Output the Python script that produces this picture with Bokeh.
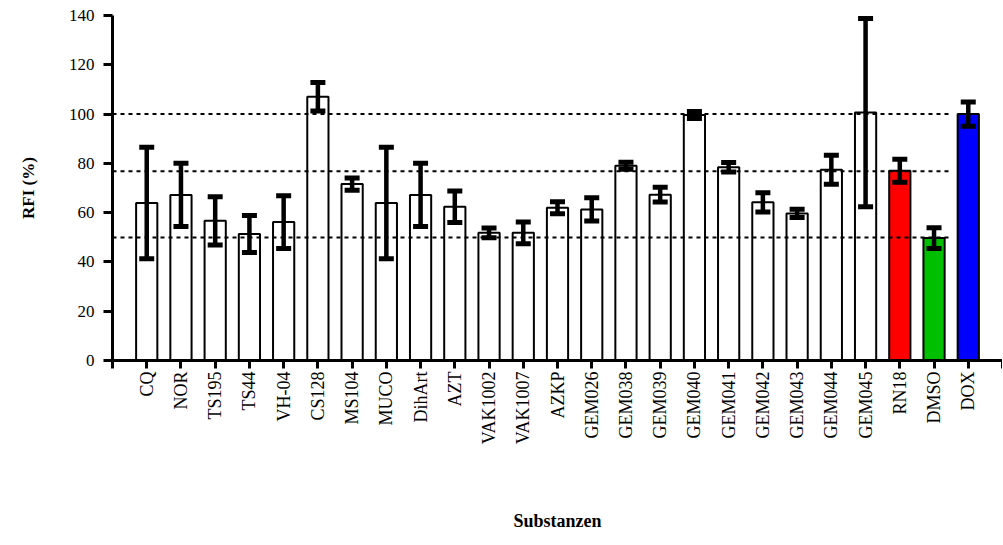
from math import pi
from bokeh.plotting import figure
from bokeh.models import FixedTicker, ColumnDataSource, Range1d
from bokeh.embed import file_html
from bokeh.resources import INLINE

# ---- data ----
substances = ["CQ", "NOR", "TS195", "TS44", "VH-04", "CS128", "MS104", "MUCO",
              "DihArt", "AZT", "VAK1002", "VAK1007", "AZKP", "GEM026", "GEM038",
              "GEM039", "GEM040", "GEM041", "GEM042", "GEM043", "GEM044",
              "GEM045", "RN18", "DMSO", "DOX"]
rfi_mean = [63.9, 67.2, 56.7, 51.3, 56.2, 107.0, 71.6, 63.9, 67.2, 62.4, 51.8,
            51.8, 62.0, 61.3, 79.0, 67.3, 99.6, 78.4, 64.2, 59.7, 77.4, 100.6,
            77.0, 49.7, 100.0]
rfi_err = [22.6, 12.8, 9.8, 7.5, 10.7, 5.8, 2.5, 22.6, 12.8, 6.4, 2.0, 4.4,
           2.4, 4.7, 1.4, 3.0, 1.4, 1.9, 3.9, 1.7, 5.9, 38.2, 4.7, 4.2, 4.9]
bar_colors = ["white"] * 22 + ["#FF0000", "#00BE00", "#0000FF"]
ref_levels = [100.0, 76.8, 49.9]
y_ticks = [0, 20, 40, 60, 80, 100, 120, 140]

n = len(substances)
xpos = list(range(1, n + 1))
upper = [m + e for m, e in zip(rfi_mean, rfi_err)]
lower = [m - e for m, e in zip(rfi_mean, rfi_err)]

src = ColumnDataSource(dict(x=xpos, name=substances, mean=rfi_mean,
                            up=upper, lo=lower, color=bar_colors))

FONT = "Liberation Serif"

p = figure(width=1002, height=544, output_backend="svg", toolbar_location=None,
           x_range=Range1d(0, n + 1), y_range=Range1d(0, 140),
           min_border_left=112, min_border_right=0, min_border_top=15,
           min_border_bottom=184)
p.outline_line_color = None
p.xgrid.visible = False
p.ygrid.visible = False
p.background_fill_color = "white"
p.border_fill_color = "white"

# bars
p.vbar(x="x", top="mean", bottom=0, width=0.62, source=src,
       fill_color="color", line_color="black", line_width=2)

# dashed reference lines
p.segment(x0=[0] * len(ref_levels), x1=[n - 0.5] * len(ref_levels),
          y0=ref_levels, y1=ref_levels, line_color="black", line_width=2,
          line_dash="4 4")

# error bars
p.segment(x0="x", x1="x", y0="lo", y1="up", source=src,
          line_color="black", line_width=4.5)
for key in ("up", "lo"):
    p.rect(x="x", y=key, width=15, height=5, width_units="screen",
           height_units="screen", source=src, fill_color="black",
           line_color=None)

# y axis
ya = p.yaxis[0]
ya.ticker = FixedTicker(ticks=y_ticks)
ya.minor_tick_line_color = None
ya.major_tick_out = 9
ya.major_tick_in = 0
ya.major_tick_line_width = 3
ya.axis_line_width = 3
ya.major_label_text_font = FONT
ya.major_label_text_font_size = "17px"
ya.major_label_text_color = "black"
ya.major_label_standoff = 9
ya.axis_label = "RFI (%)"
ya.axis_label_text_font = FONT
ya.axis_label_text_font_style = "bold"
ya.axis_label_text_font_size = "17px"
ya.axis_label_text_color = "black"
ya.axis_label_standoff = 28

# x axis
xa = p.xaxis[0]
xa.ticker = FixedTicker(ticks=list(range(0, n + 2)))
xa.major_label_overrides = {i + 1: s for i, s in enumerate(substances)}
xa.major_label_overrides.update({0: "", n + 1: ""})
xa.major_label_orientation = pi / 2
xa.minor_tick_line_color = None
xa.major_tick_out = 8
xa.major_tick_in = 0
xa.major_tick_line_width = 3
xa.axis_line_width = 3
xa.major_label_text_font = FONT
xa.major_label_text_font_size = "18px"
xa.major_label_text_color = "black"
xa.major_label_standoff = 3
xa.axis_label = "Substanzen"
xa.axis_label_text_font = FONT
xa.axis_label_text_font_style = "bold"
xa.axis_label_text_font_size = "18px"
xa.axis_label_text_color = "black"
xa.axis_label_standoff = 64

open("out.html", "w").write(file_html(p, INLINE))
